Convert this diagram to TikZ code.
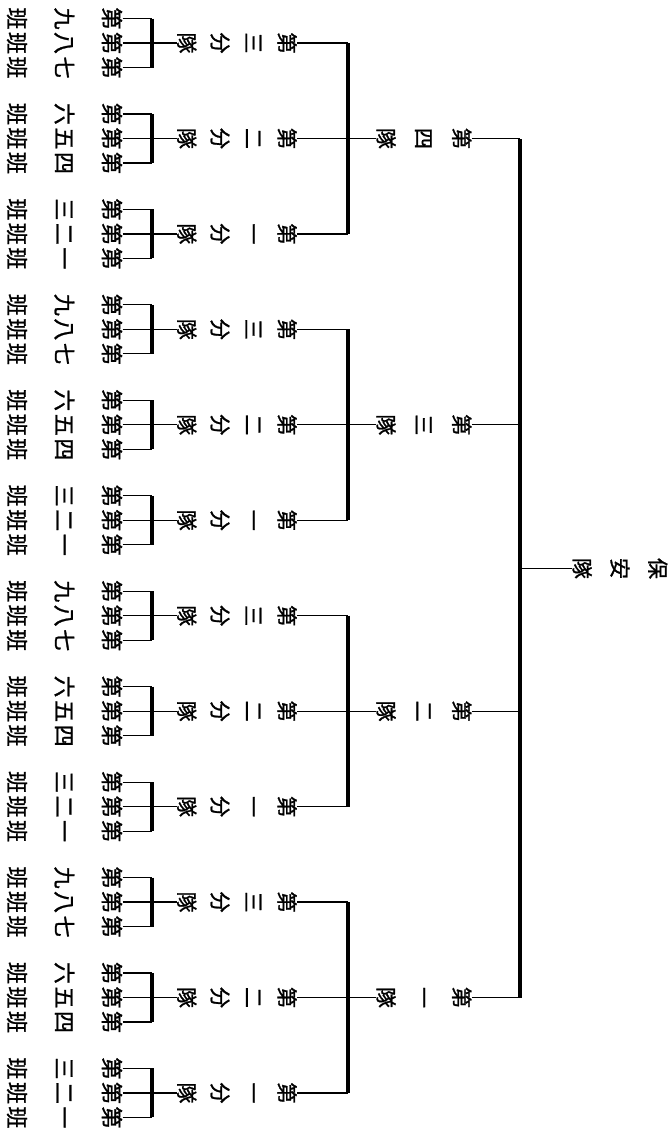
\documentclass[tikz,border=0pt]{standalone}
\usepackage{fontspec}
\newfontfamily\jpfont[FakeBold=1.2]{Noto Sans CJK JP}
\usetikzlibrary{calc}
\newcommand{\kan}[1]{\ifcase#1\or 一\or 二\or 三\or 四\or 五\or 六\or 七\or 八\or 九\fi}
\tikzset{
  tate/.style={inner sep=0pt, rotate=-90, align=center},
  taibox/.style={tate, font=\jpfont\fontsize{10.5pt}{18.9pt}\selectfont},
  bunbox/.style={tate, font=\jpfont\fontsize{10.5pt}{16.7pt}\selectfont},
  hanbox/.style={tate, font=\jpfont\fontsize{11pt}{23.75pt}\selectfont},
  trunk/.style={line width=2pt},
  subbar/.style={line width=1.8pt},
  leafbar/.style={line width=1.8pt},
  link/.style={line width=0.6pt}
}

\begin{document}
\begin{tikzpicture}[x=0.5pt, y=-0.5pt]
  \useasboundingbox (0,0) rectangle (670,1132);

  % main bar
  \coordinate (mainT) at (520,139);
  \coordinate (mainB) at (520,998);
  \draw[trunk] (mainT) -- (mainB);

  % root
  \node[taibox] (hoan) at (620,568.5) {保\\安\\隊};
  \draw[link] (hoan.south) -- (hoan.south -| mainT);

  % 隊 / 分隊 / 班
  \foreach \tai in {1,...,4}{
    \pgfmathsetmacro{\yc}{43+95.45*((4-\tai)*3+1)}
    \node[taibox] (tai\tai) at (424,\yc) {第\\\kan{\tai}\\隊};
    \coordinate (subT\tai) at (348,\yc-95.45);
    \coordinate (subB\tai) at (348,\yc+95.45);
    \draw[subbar] (subT\tai) -- (subB\tai);
    \draw[link] (tai\tai.north) -- (tai\tai.north -| mainT);
    \draw[link] (tai\tai.south) -- (tai\tai.south -| subT\tai);
    \foreach \bun in {1,2,3}{
      \pgfmathsetmacro{\ys}{43+95.45*((4-\tai)*3+3-\bun)}
      \node[bunbox] (bun\tai-\bun) at (237,\ys) {第\\\kan{\bun}\\分\\隊};
      \draw[link] (bun\tai-\bun.north) -- (bun\tai-\bun.north -| subT\tai);
      \coordinate (leafT\tai-\bun) at (152,\ys-24.5);
      \coordinate (leafB\tai-\bun) at (152,\ys+24.5);
      \draw[leafbar] (leafT\tai-\bun) -- (leafB\tai-\bun);
      \draw[link] (bun\tai-\bun.south) -- (bun\tai-\bun.south -| leafT\tai-\bun);
      \foreach \kk in {0,1,2}{
        \pgfmathtruncatemacro{\han}{3*\bun-\kk}
        \node[hanbox] (han\tai-\han) at (64.5,\ys+24.5*\kk-24.5) {第\\\kan{\han}\\班};
        \draw[link] (han\tai-\han.north) -- (han\tai-\han.north -| leafT\tai-\bun);
      }
    }
  }
\end{tikzpicture}
\end{document}
